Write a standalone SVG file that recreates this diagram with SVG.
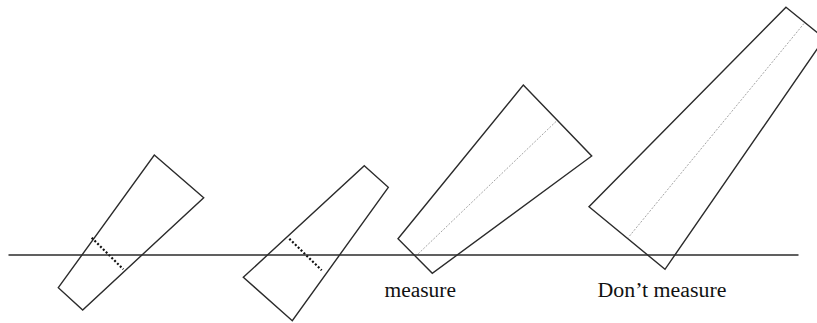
<svg xmlns="http://www.w3.org/2000/svg" width="817" height="323" viewBox="0 0 817 323">
<style>
.shape{fill:none;stroke:#2b2b2b;stroke-width:1.4;stroke-linejoin:miter}
.base{stroke:#2b2b2b;stroke-width:1.4}
.mark{stroke:#111;stroke-width:2.2;stroke-dasharray:2 2}
.axis{stroke:#9a9a9a;stroke-width:0.9;stroke-dasharray:2 1.5}
.lbl{font-family:"Liberation Serif","Times New Roman",serif;fill:#111}
</style>
<rect width="817" height="323" fill="#fff"/>
<g id="shape1">
<polygon class="shape" points="154.3,155 203.7,197.7 82.7,310 58.3,287.7"/>
<line class="mark" x1="91.7" y1="237.7" x2="123.3" y2="269.3"/>
</g>
<g id="shape2">
<polygon class="shape" points="364.3,165.7 388.3,187.3 292.3,320.7 243.3,277.3"/>
<line class="mark" x1="289.3" y1="238.7" x2="321.7" y2="270.3"/>
</g>
<g id="shape3">
<polygon class="shape" points="523.3,85 591.7,156 432.3,273.3 398,238.7"/>
<line class="axis" x1="556" y1="121.5" x2="417" y2="255"/>
</g>
<g id="shape4">
<polygon class="shape" points="786,7.3 824.5,38.5 665,269.3 589,206.7"/>
<line class="axis" x1="804" y1="23.5" x2="628.3" y2="237.5"/>
</g>
<g id="baseline">
<line class="base" x1="8.5" y1="255" x2="798.5" y2="255"/>
</g>
<g id="labels">
<text class="lbl" x="384.5" y="297.3" font-size="20" textLength="71.5" lengthAdjust="spacingAndGlyphs">measure</text>
<text class="lbl" x="597.5" y="297.3" font-size="20.5" textLength="129" lengthAdjust="spacingAndGlyphs">Don’t measure</text>
</g>
</svg>
